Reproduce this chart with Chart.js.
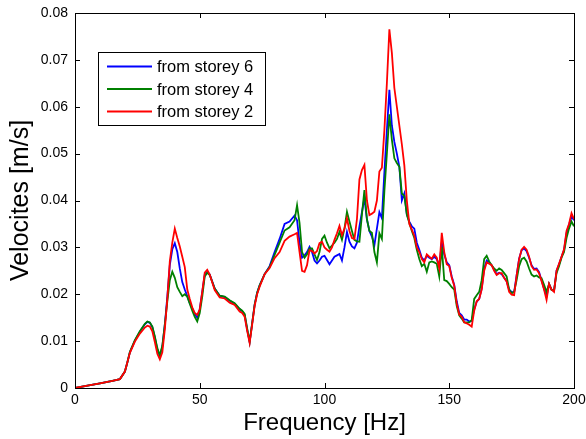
<!DOCTYPE html>
<html>
<head>
<meta charset="utf-8">
<script src="https://cdn.jsdelivr.net/npm/chart.js@4"></script>
<style>
  body { margin: 0; background: #fff; }
  canvas { display: block; }
</style>
</head>
<body>
<canvas id="chart" width="586" height="439"></canvas>
<script>
// Frequencies [Hz]
const freq = [
  0, 5, 10, 15, 18, 20, 21, 22, 24, 26, 28, 29, 30, 31, 32, 33, 34, 35, 36,
  37, 38, 39, 40, 41, 42, 43, 44, 45, 46, 47, 48, 49, 50,
  51, 52, 53, 54, 56, 58, 60, 62, 64, 66, 67, 68, 69, 70, 71, 72, 73, 74,
  76, 78, 80, 82, 84, 86, 88,
  89, 90, 91, 92, 93, 94, 95, 96, 97, 98, 99, 100, 101, 102, 103, 104, 105, 106, 107, 108, 109, 110,
  111, 112, 113, 114, 115, 116, 117, 118, 119, 120, 121, 122, 123, 124, 125, 126, 127, 128, 129, 130,
  131, 132, 133, 134, 135, 136, 137,
  138, 139, 140, 141, 142, 143, 144, 145, 146, 147, 148, 149, 150, 151, 152, 153, 154, 155, 156, 157,
  158, 159, 160, 161, 162, 163, 164, 165, 166, 167, 168, 169, 170, 171, 172, 173, 174, 175, 176, 177,
  178, 179, 180, 181, 182, 183, 184, 185, 186, 187, 188, 189, 190, 191, 192, 193, 194, 195, 196, 197,
  198, 199, 200
];

// Velocities [m/s]
const storey6 = [
  0, 0.0005, 0.001, 0.0015, 0.0019, 0.0035, 0.0055, 0.0076, 0.0101, 0.0120, 0.0136, 0.0141, 0.0139, 0.0130, 0.0108, 0.0082, 0.0068, 0.0088, 0.0135,
  0.0195, 0.0262, 0.0296, 0.0309, 0.0290, 0.0255, 0.0226, 0.0210, 0.0196, 0.0181, 0.0170, 0.0158, 0.0150, 0.0168,
  0.0205, 0.0242, 0.0248, 0.0242, 0.0212, 0.0197, 0.0194, 0.0186, 0.0180, 0.0168, 0.0164, 0.0156, 0.0125, 0.0098, 0.0138, 0.0178, 0.0203, 0.0219,
  0.0243, 0.0260, 0.0290, 0.0318, 0.0350, 0.0355, 0.0368,
  0.0358, 0.0310, 0.0278, 0.0283, 0.0290, 0.0301, 0.0290, 0.0272, 0.0266, 0.0272, 0.0280, 0.0282, 0.0273, 0.0264, 0.0272, 0.0280, 0.0283, 0.0286, 0.0272, 0.0300, 0.0333, 0.0312,
  0.0302, 0.0298, 0.0310, 0.0345, 0.0375, 0.0405, 0.0360, 0.0335, 0.0323, 0.0305, 0.0340, 0.0375, 0.0362, 0.0460, 0.0550, 0.0636, 0.0560, 0.0525, 0.0500, 0.0472,
  0.0400, 0.0415, 0.0370, 0.0355, 0.0345, 0.0340, 0.0310,
  0.0295, 0.0278, 0.0272, 0.0282, 0.0278, 0.0275, 0.0280, 0.0275, 0.0260, 0.0310, 0.0285, 0.0268, 0.0262, 0.0238, 0.0220, 0.0185, 0.0160, 0.0155, 0.0146, 0.0146,
  0.0142, 0.0143, 0.0168, 0.0184, 0.0190, 0.0212, 0.0255, 0.0272, 0.0268, 0.0262, 0.0252, 0.0243, 0.0246, 0.0243, 0.0235, 0.0228, 0.0210, 0.0205, 0.0204, 0.0240,
  0.0276, 0.0294, 0.0298, 0.0292, 0.0278, 0.0262, 0.0254, 0.0255, 0.0247, 0.0230, 0.0212, 0.0195, 0.0222, 0.0210, 0.0207, 0.0250, 0.0264, 0.0280, 0.0294, 0.0330,
  0.0348, 0.0366, 0.0358
];

const storey4 = [
  0, 0.0005, 0.001, 0.0015, 0.0019, 0.0035, 0.0055, 0.0077, 0.0102, 0.0121, 0.0137, 0.0142, 0.0140, 0.0131, 0.0110, 0.0085, 0.0070, 0.0090, 0.0135,
  0.0185, 0.0230, 0.0248, 0.0235, 0.0215, 0.0205, 0.0196, 0.0200, 0.0195, 0.0180, 0.0165, 0.0152, 0.0142, 0.0160,
  0.0195, 0.0238, 0.0246, 0.0241, 0.0212, 0.0197, 0.0195, 0.0187, 0.0181, 0.0169, 0.0165, 0.0158, 0.0127, 0.0099, 0.0138, 0.0178, 0.0203, 0.0219,
  0.0243, 0.0258, 0.0284, 0.0310, 0.0336, 0.0343, 0.0358,
  0.0390, 0.0352, 0.0290, 0.0278, 0.0285, 0.0298, 0.0298, 0.0285, 0.0273, 0.0290, 0.0318, 0.0325, 0.0310, 0.0298, 0.0304, 0.0310, 0.0318, 0.0333, 0.0316, 0.0340, 0.0376, 0.0355,
  0.0335, 0.0316, 0.0313, 0.0312, 0.0370, 0.0422, 0.0360, 0.0335, 0.0331, 0.0290, 0.0268, 0.0330, 0.0318, 0.0420, 0.0500, 0.0584, 0.0530, 0.0490, 0.0480, 0.0472,
  0.0415, 0.0410, 0.0370, 0.0352, 0.0335, 0.0320, 0.0295,
  0.0275, 0.0260, 0.0265, 0.0248, 0.0268, 0.0270, 0.0268, 0.0265, 0.0238, 0.0301, 0.0230, 0.0228, 0.0222, 0.0215, 0.0210, 0.0175, 0.0155, 0.0148, 0.0140, 0.0140,
  0.0140, 0.0145, 0.0190, 0.0198, 0.0205, 0.0230, 0.0275, 0.0282, 0.0270, 0.0262, 0.0255, 0.0250, 0.0255, 0.0252, 0.0245, 0.0238, 0.0210, 0.0202, 0.0205, 0.0230,
  0.0260, 0.0275, 0.0278, 0.0270, 0.0255, 0.0242, 0.0238, 0.0240, 0.0236, 0.0234, 0.0220, 0.0205, 0.0222, 0.0209, 0.0208, 0.0245, 0.0260, 0.0278, 0.0290, 0.0320,
  0.0340, 0.0355, 0.0345
];

const storey2 = [
  0, 0.0005, 0.001, 0.0015, 0.0019, 0.0035, 0.0055, 0.0075, 0.0099, 0.0116, 0.0129, 0.0133, 0.0131, 0.0121, 0.0098, 0.0073, 0.0061, 0.0076, 0.0125,
  0.0190, 0.0270, 0.0310, 0.0340, 0.0320, 0.0302, 0.0280, 0.0258, 0.0210, 0.0190, 0.0172, 0.0160, 0.0156, 0.0168,
  0.0205, 0.0246, 0.0252, 0.0242, 0.0209, 0.0193, 0.0191, 0.0182, 0.0177, 0.0163, 0.0160, 0.0152, 0.0122, 0.0096, 0.0135, 0.0175, 0.0200, 0.0216,
  0.0243, 0.0256, 0.0277, 0.0290, 0.0314, 0.0323, 0.0328,
  0.0331, 0.0290, 0.0250, 0.0248, 0.0262, 0.0294, 0.0292, 0.0287, 0.0292, 0.0309, 0.0312, 0.0300, 0.0295, 0.0291, 0.0300, 0.0316, 0.0330, 0.0346, 0.0326, 0.0340, 0.0362, 0.0335,
  0.0320, 0.0318, 0.0360, 0.0445, 0.0465, 0.0476, 0.0400, 0.0369, 0.0372, 0.0376, 0.0400, 0.0462, 0.0470, 0.0550, 0.0650, 0.0765, 0.0715, 0.0640, 0.0600, 0.0560,
  0.0520, 0.0475, 0.0400, 0.0350, 0.0338, 0.0325, 0.0300,
  0.0290, 0.0275, 0.0268, 0.0285, 0.0280, 0.0276, 0.0285, 0.0278, 0.0255, 0.0331, 0.0290, 0.0264, 0.0260, 0.0235, 0.0218, 0.0180, 0.0157, 0.0152, 0.0140, 0.0138,
  0.0135, 0.0131, 0.0165, 0.0185, 0.0190, 0.0210, 0.0250, 0.0268, 0.0265, 0.0262, 0.0250, 0.0241, 0.0245, 0.0245, 0.0235, 0.0227, 0.0205, 0.0199, 0.0198, 0.0240,
  0.0275, 0.0295, 0.0301, 0.0295, 0.0280, 0.0260, 0.0252, 0.0253, 0.0245, 0.0228, 0.0210, 0.0188, 0.0222, 0.0210, 0.0205, 0.0250, 0.0265, 0.0280, 0.0296, 0.0335,
  0.0350, 0.0373, 0.0360
];

const xTicks = [0, 50, 100, 150, 200];
const yTicks = [0, 0.01, 0.02, 0.03, 0.04, 0.05, 0.06, 0.07, 0.08];

const FONT = "'Liberation Sans', Arial, Helvetica, sans-serif";

function points(vals) {
  return vals.map((v, i) => ({ x: freq[i], y: v }));
}

// box round the plot with inward ticks on all four sides
const frame = {
  id: 'frame',
  afterDraw(chart) {
    const ctx = chart.ctx;
    const a = chart.chartArea;
    const sx = chart.scales.x, sy = chart.scales.y;
    ctx.save();
    ctx.strokeStyle = '#000';
    ctx.lineWidth = 1;
    ctx.strokeRect(Math.round(a.left) + 0.5, Math.round(a.top) + 0.5,
      Math.round(a.right - a.left), Math.round(a.bottom - a.top));
    ctx.beginPath();
    xTicks.forEach(t => {
      const px = Math.round(sx.getPixelForValue(t)) + 0.5;
      ctx.moveTo(px, a.bottom); ctx.lineTo(px, a.bottom - 5);
      ctx.moveTo(px, a.top); ctx.lineTo(px, a.top + 5);
    });
    yTicks.forEach(t => {
      const py = Math.round(sy.getPixelForValue(t)) + 0.5;
      ctx.moveTo(a.left, py); ctx.lineTo(a.left + 5, py);
      ctx.moveTo(a.right, py); ctx.lineTo(a.right - 5, py);
    });
    ctx.stroke();
    ctx.restore();
  }
};

// legend box inside the axes, top left
const boxLegend = {
  id: 'boxLegend',
  afterDraw(chart) {
    const ctx = chart.ctx;
    const x0 = 98, y0 = 52, w = 167, h = 73;
    ctx.save();
    ctx.fillStyle = '#fff';
    ctx.fillRect(x0, y0, w, h);
    ctx.strokeStyle = '#000';
    ctx.lineWidth = 1;
    ctx.strokeRect(x0 + 0.5, y0 + 0.5, w, h);
    ctx.font = '16.5px ' + FONT;
    ctx.textBaseline = 'middle';
    chart.data.datasets.forEach((ds, i) => {
      const y = y0 + 14.5 + i * 22.5;
      ctx.strokeStyle = ds.borderColor;
      ctx.lineWidth = 1.8;
      ctx.beginPath();
      ctx.moveTo(x0 + 9, y); ctx.lineTo(x0 + 54, y);
      ctx.stroke();
      ctx.fillStyle = '#000';
      ctx.fillText(ds.label, x0 + 59, y + 1);
    });
    ctx.restore();
  }
};

new Chart(document.getElementById('chart').getContext('2d'), {
  type: 'line',
  data: {
    datasets: [
      { label: 'from storey 6', data: points(storey6), borderColor: '#0000ff', order: 3 },
      { label: 'from storey 4', data: points(storey4), borderColor: '#008000', order: 2 },
      { label: 'from storey 2', data: points(storey2), borderColor: '#ff0000', order: 1 }
    ]
  },
  options: {
    responsive: false,
    animation: false,
    layout: { padding: { left: 0, right: 12, top: 13, bottom: 0 } },
    elements: {
      point: { radius: 0 },
      line: { borderWidth: 1.8, tension: 0 }
    },
    plugins: {
      legend: { display: false },
      tooltip: { enabled: false }
    },
    scales: {
      x: {
        type: 'linear',
        min: 0, max: 200,
        grid: { display: false, drawTicks: false },
        border: { display: false },
        afterBuildTicks: s => { s.ticks = xTicks.map(v => ({ value: v })); },
        afterFit: s => { s.height = 51; s.paddingLeft = 0; s.paddingRight = 0; },
        ticks: { color: '#000', font: { family: FONT, size: 14 }, padding: 4, maxRotation: 0 },
        title: { display: true, text: 'Frequency [Hz]', color: '#000',
                 font: { family: FONT, size: 24 }, padding: { top: 0, bottom: 1 } }
      },
      y: {
        min: 0, max: 0.08,
        grid: { display: false, drawTicks: false },
        border: { display: false },
        afterBuildTicks: s => { s.ticks = yTicks.map(v => ({ value: v })); },
        afterFit: s => { s.width = 75; s.paddingTop = 0; s.paddingBottom = 0; },
        ticks: {
          color: '#000', font: { family: FONT, size: 14 }, padding: 7,
          callback: v => v === 0 ? '0' : v.toFixed(2)
        },
        title: { display: true, text: 'Velocites [m/s]', color: '#000',
                 font: { family: FONT, size: 25 }, padding: { top: 6, bottom: 0 } }
      }
    }
  },
  plugins: [frame, boxLegend]
});
</script>
</body>
</html>
